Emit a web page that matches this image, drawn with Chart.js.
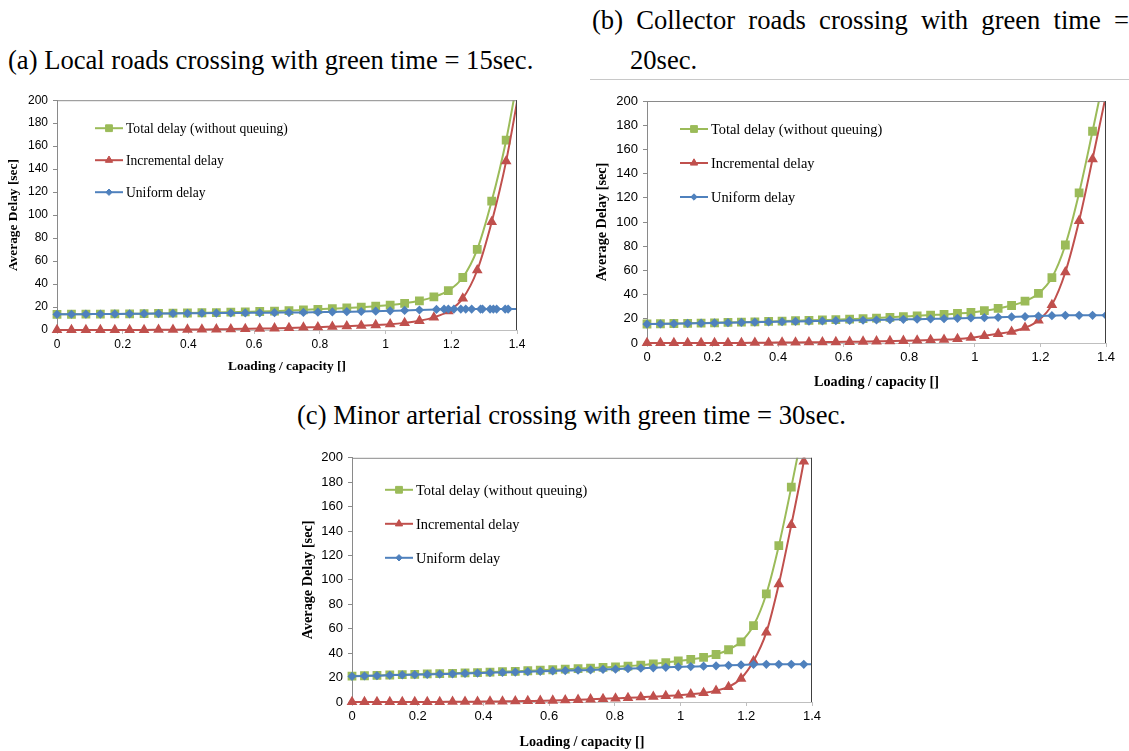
<!DOCTYPE html>
<html>
<head>
<meta charset="utf-8">
<script src="https://cdn.jsdelivr.net/npm/chart.js@4.4.0/dist/chart.umd.min.js"></script>
<style>
body { margin: 0; background: #fff; width: 1129px; height: 751px; position: relative; overflow: hidden; font-family: 'Liberation Serif', 'Times New Roman', serif; }
.cap { position: absolute; font-size: 26.6px; line-height: 40px; color: #000; white-space: nowrap; }
#capB { white-space: normal; width: 499px; text-align: justify; padding-left: 38px; text-indent: -38px; }
.rule { position: absolute; left: 590px; top: 79px; width: 539px; height: 1px; background: #c8c8c8; }
canvas { position: absolute; }
</style>
</head>
<body>
<div class="cap" id="capA" style="left:8px; top:40px;">(a) Local roads crossing with green time = 15sec.</div>
<div class="cap" id="capB" style="left:592px; top:0px;">(b) Collector roads crossing with green time = 20sec.</div>
<div class="rule"></div>
<div class="cap" id="capC" style="left:297px; top:395px;">(c) Minor arterial crossing with green time = 30sec.</div>

<canvas id="chartA" width="545" height="290" style="left:0px; top:88px;"></canvas>
<canvas id="chartB" width="539" height="305" style="left:590px; top:88px;"></canvas>
<canvas id="chartC" width="545" height="306" style="left:295px; top:445px;"></canvas>

<script>
// shared axes
const xTicks = [0, 0.2, 0.4, 0.6, 0.8, 1, 1.2, 1.4];
const yTicks = [0, 20, 40, 60, 80, 100, 120, 140, 160, 180, 200];
const seriesNames = ['Total delay (without queuing)', 'Incremental delay', 'Uniform delay'];

// (a) local roads, green = 15 s
const loadA = [0, 0.044, 0.088, 0.132, 0.176, 0.221, 0.265, 0.309, 0.353, 0.397, 0.441, 0.485, 0.529, 0.573, 0.617, 0.662, 0.706,
  0.750, 0.794, 0.838, 0.882, 0.926, 0.970, 1.014, 1.058, 1.103, 1.147, 1.191, 1.235, 1.279, 1.323, 1.367, 1.411];
const totalA = [13.6, 13.7, 13.8, 13.9, 14.0, 14.1, 14.2, 14.4, 14.6, 14.8, 15.0, 15.2, 15.5, 15.8, 16.1, 16.5, 16.9,
  17.5, 18.0, 18.6, 19.2, 19.9, 20.7, 21.7, 23.2, 25.4, 28.8, 34.3, 45.7, 70.2, 112.2, 165.2, 234];
const incrA = [0, 0, 0, 0, 0, 0.1, 0.1, 0.2, 0.3, 0.4, 0.5, 0.6, 0.8, 1.0, 1.2, 1.5, 1.8,
  2.2, 2.5, 2.9, 3.3, 3.8, 4.3, 5.0, 6.2, 8.0, 11.0, 16.3, 27.5, 52, 94, 147, 216];
const uniformLoadA = [0, 0.044, 0.088, 0.132, 0.176, 0.221, 0.265, 0.309, 0.353, 0.397, 0.441, 0.485, 0.529, 0.573, 0.617, 0.662, 0.706,
  0.750, 0.794, 0.838, 0.882, 0.926, 0.970, 1.014, 1.058, 1.103,
  1.155, 1.178, 1.191, 1.208, 1.229, 1.244, 1.262, 1.289, 1.295, 1.318, 1.328, 1.338, 1.364, 1.373, 1.411];
const uniformA = [13.6, 13.7, 13.8, 13.9, 14.0, 14.1, 14.2, 14.3, 14.4, 14.5, 14.6, 14.7, 14.8, 14.9, 15.0, 15.1, 15.2,
  15.3, 15.5, 15.7, 15.9, 16.1, 16.4, 16.7, 17.0, 17.4,
  17.9, 18.1, 18.2, 18.2, 18.2, 18.2, 18.2, 18.2, 18.2, 18.2, 18.2, 18.2, 18.2, 18.2, 18.2];

// (b) collector roads, green = 20 s
const loadB = [0, 0.041, 0.082, 0.124, 0.165, 0.206, 0.247, 0.288, 0.329, 0.371, 0.412, 0.453, 0.494, 0.535, 0.576, 0.618, 0.659, 0.700,
  0.741, 0.782, 0.824, 0.865, 0.906, 0.947, 0.988, 1.029, 1.071, 1.112, 1.153, 1.194, 1.235, 1.276, 1.318, 1.359, 1.400];
const totalB = [15.7, 15.9, 16.1, 16.3, 16.5, 16.7, 17.0, 17.2, 17.5, 17.8, 18.1, 18.4, 18.7, 19.0, 19.3, 19.7, 20.1, 20.6,
  21.2, 21.8, 22.5, 23.1, 23.6, 24.4, 25.3, 26.7, 28.6, 31.0, 34.6, 41.0, 54.0, 81.0, 124.0, 175.0, 228];
const incrB = [0, 0, 0, 0, 0, 0, 0.1, 0.1, 0.2, 0.3, 0.4, 0.5, 0.6, 0.7, 0.8, 1.0, 1.2, 1.4,
  1.6, 1.8, 2.1, 2.5, 2.8, 3.4, 4.4, 5.9, 7.6, 9.4, 12.6, 18.6, 31.5, 58.5, 101, 152, 205];
const uniformB = [15.6, 15.8, 16.0, 16.2, 16.4, 16.6, 16.8, 17.0, 17.2, 17.4, 17.6, 17.8, 18.0, 18.2, 18.4, 18.6, 18.8, 19.0,
  19.3, 19.6, 19.7, 19.9, 20.1, 20.4, 20.7, 20.9, 21.2, 21.5, 21.8, 22.3, 22.6, 22.9, 22.9, 22.9, 22.9];

// (c) minor arterial, green = 30 s
const loadC = [0, 0.038, 0.076, 0.115, 0.153, 0.191, 0.229, 0.267, 0.306, 0.344, 0.382, 0.420, 0.458, 0.497, 0.535, 0.573, 0.611, 0.649, 0.688,
  0.726, 0.764, 0.802, 0.840, 0.879, 0.917, 0.955, 0.993, 1.031, 1.070, 1.108, 1.146, 1.184, 1.222, 1.261, 1.299, 1.337, 1.375, 1.413];
const totalC = [21.2, 21.5, 21.8, 22.1, 22.4, 22.7, 23.0, 23.2, 23.5, 23.8, 24.1, 24.5, 24.8, 25.1, 25.6, 26.0, 26.4, 26.9, 27.3,
  27.8, 28.3, 28.8, 29.4, 30.2, 31.2, 32.3, 33.6, 34.9, 36.5, 38.9, 42.8, 49.3, 62.6, 88.5, 128, 176, 228, 290];
const incrC = [0, 0, 0, 0, 0, 0, 0.1, 0.1, 0.2, 0.2, 0.3, 0.4, 0.5, 0.6, 0.8, 1.0, 1.2, 1.5, 1.8,
  2.2, 2.6, 3.0, 3.4, 3.9, 4.4, 4.9, 5.5, 6.3, 7.4, 9.3, 12.4, 19.2, 33.5, 57, 96.5, 145, 197, 258];
const uniformC = [21.0, 21.3, 21.6, 21.9, 22.2, 22.4, 22.6, 22.9, 23.1, 23.4, 23.7, 24.0, 24.2, 24.5, 24.8, 25.1, 25.4, 25.7, 26.0,
  26.3, 26.7, 26.9, 27.3, 27.7, 28.0, 28.4, 28.7, 29.0, 29.3, 29.6, 30.0, 30.4, 30.8, 30.9, 30.9, 30.9, 30.9, 30.9];

const GREEN = '#9bbb59', RED = '#c0504d', BLUE = '#4f81bd';
const SANS = "'Liberation Sans', Arial, sans-serif";
const SERIF = "'Liberation Serif', 'Times New Roman', serif";

function pts(xs, ys) {
  return xs.map((x, i) => ({ x: x, y: ys[i] }));
}

// plot frame (top/right) + in-plot legend like the Excel original
const framePlugin = {
  id: 'frame',
  afterDatasetsDraw(chart, args, opts) {
    const { ctx, chartArea: a } = chart;
    ctx.save();
    ctx.lineWidth = 1;
    ctx.strokeStyle = '#8a8a8a';
    ctx.beginPath(); ctx.moveTo(a.left, a.top + 0.5); ctx.lineTo(a.right, a.top + 0.5); ctx.stroke();
    ctx.strokeStyle = '#404040';
    ctx.beginPath(); ctx.moveTo(a.right - 0.5, a.top); ctx.lineTo(a.right - 0.5, a.bottom); ctx.stroke();

    chart.data.datasets.forEach((ds, i) => {
      const x = a.left + opts.left;
      const y = a.top + opts.top + i * opts.gap;
      ctx.strokeStyle = ds.borderColor;
      ctx.lineWidth = 2;
      ctx.beginPath(); ctx.moveTo(x, y); ctx.lineTo(x + 28, y); ctx.stroke();
      ctx.fillStyle = ds.pointBackgroundColor;
      ctx.strokeStyle = ds.pointBorderColor;
      ctx.lineWidth = 1;
      Chart.helpers.drawPoint(ctx, { pointStyle: ds.pointStyle, radius: ds.pointRadius, borderWidth: 1, rotation: 0 }, x + 14, y);
      ctx.fillStyle = '#000';
      ctx.font = opts.fontSize + 'px ' + SERIF;
      ctx.textBaseline = 'middle';
      ctx.textAlign = 'left';
      ctx.fillText(ds.label, x + 31, y + 1);
    });
    ctx.restore();
  }
};

function makeChart(id, xs, total, incr, uxs, uniform, look) {
  const common = {
    borderWidth: 2,
    cubicInterpolationMode: 'monotone',
    clip: { left: 6, top: 0, right: 0, bottom: 6 }
  };
  return new Chart(document.getElementById(id), {
    type: 'line',
    data: {
      datasets: [
        Object.assign({ label: seriesNames[0], data: pts(xs, total), borderColor: GREEN, backgroundColor: GREEN,
          pointBackgroundColor: GREEN, pointBorderColor: GREEN, pointStyle: 'rect', pointRadius: 4.8, order: 2 }, common),
        Object.assign({ label: seriesNames[1], data: pts(xs, incr), borderColor: RED, backgroundColor: RED,
          pointBackgroundColor: RED, pointBorderColor: RED, pointStyle: 'triangle', pointRadius: 4.2, order: 1 }, common),
        Object.assign({ label: seriesNames[2], data: pts(uxs, uniform), borderColor: BLUE, backgroundColor: BLUE,
          pointBackgroundColor: BLUE, pointBorderColor: BLUE, pointStyle: 'rectRot', pointRadius: 3.2, order: 0 }, common)
      ]
    },
    options: {
      responsive: false,
      animation: false,
      layout: { padding: { top: look.padTop, right: look.padRight, left: 0, bottom: 0 } },
      plugins: {
        legend: { display: false },
        tooltip: { enabled: false },
        frame: look.legend
      },
      scales: {
        x: {
          type: 'linear', min: 0, max: 1.4,
          afterBuildTicks: s => { s.ticks = xTicks.map(v => ({ value: v })); },
          afterFit: s => { s.height = look.xH; },
          grid: { drawOnChartArea: false, tickLength: 4, color: '#bfbfbf' },
          border: { color: '#bfbfbf' },
          ticks: { color: '#000', font: { family: SANS, size: look.tick }, padding: 3, maxRotation: 0, autoSkip: false,
            callback: v => String(v) },
          title: { display: true, text: 'Loading / capacity []', color: '#000',
            font: { family: SERIF, size: look.title, weight: 'bold' }, padding: { top: 0, bottom: look.xTitlePad } }
        },
        y: {
          min: 0, max: 200,
          afterBuildTicks: s => { s.ticks = yTicks.map(v => ({ value: v })); },
          afterFit: s => { s.width = 57; },
          grid: { drawOnChartArea: false, tickLength: 4, color: '#8a8a8a' },
          border: { color: '#8a8a8a' },
          ticks: { color: '#000', font: { family: SANS, size: look.tick }, padding: 5 },
          title: { display: true, text: 'Average Delay [sec]', color: '#000',
            font: { family: SERIF, size: look.title, weight: 'bold' }, padding: { top: look.yTitlePad, bottom: 0 } }
        }
      }
    },
    plugins: [framePlugin]
  });
}

makeChart('chartA', loadA, totalA, incrA, uniformLoadA, uniformA, {
  padTop: 12, padRight: 28, xH: 48, xTitlePad: 3, yTitlePad: 6, tick: 12, title: 13.4,
  legend: { left: 38, top: 28, gap: 32, fontSize: 13.6 }
});
makeChart('chartB', loadB, totalB, incrB, loadB, uniformB, {
  padTop: 13, padRight: 23, xH: 50, xTitlePad: 2, yTitlePad: 4, tick: 13, title: 14.2,
  legend: { left: 33, top: 28, gap: 34, fontSize: 14.4 }
});
makeChart('chartC', loadC, totalC, incrC, loadC, uniformC, {
  padTop: 12, padRight: 28, xH: 49, xTitlePad: 0, yTitlePad: 5, tick: 13, title: 14.2,
  legend: { left: 33, top: 32, gap: 34, fontSize: 14.4 }
});
</script>
</body>
</html>
